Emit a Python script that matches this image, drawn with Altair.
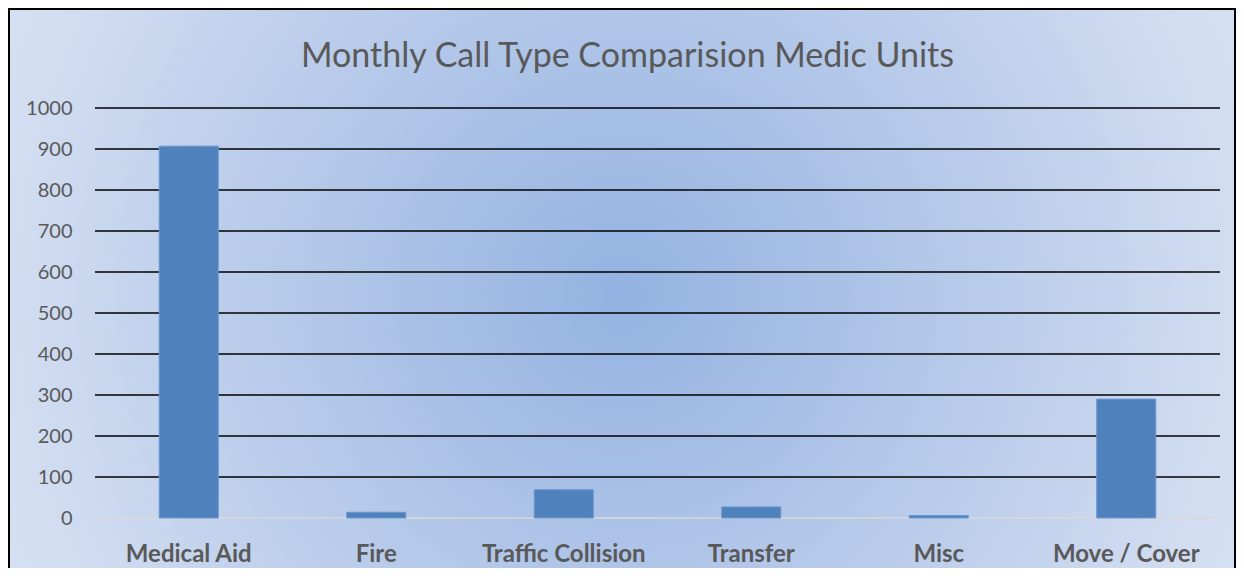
import altair as alt
import pandas as pd

categories = ["Medical Aid", "Fire", "Traffic Collision", "Transfer", "Misc", "Move / Cover"]
calls = [907, 14, 69, 27, 6, 290]
y_ticks = [0, 100, 200, 300, 400, 500, 600, 700, 800, 900, 1000]
title_text = "Monthly Call Type Comparision Medic Units"

W, H = 1125, 410
PAD = {"left": 87, "top": 100, "right": 16, "bottom": 50}

df = pd.DataFrame({"category": categories, "calls": calls})
grid_df = pd.DataFrame({"tick": y_ticks})
title_df = pd.DataFrame({"t": [title_text]})

yscale = alt.Scale(domain=[0, 1000], nice=False)
xscale = alt.Scale(domain=categories, paddingInner=0.685, paddingOuter=0.3425)

y_axis = alt.Axis(
    values=y_ticks,
    format="d",
    labelFont="Lato",
    labelFontSize=20,
    labelColor="#595959",
    labelPadding=23,
    ticks=False,
    tickSize=0,
    domain=False,
    grid=False,
    zindex=1,
)

bg = alt.Chart(pd.DataFrame({"a": [0]})).mark_rect(
    fill=alt.RadialGradient(
        gradient="radial",
        stops=[
            alt.GradientStop(color="#94B2E1", offset=0),
            alt.GradientStop(color="#D2DDF1", offset=0.7),
            alt.GradientStop(color="#E0E8F5", offset=1),
        ],
        x1=0.5, y1=0.5, r1=0, x2=0.5, y2=0.5, r2=0.72,
    ),
    stroke="black",
    strokeWidth=2,
).encode(
    x=alt.value(-PAD["left"] + 1),
    x2=alt.value(W + PAD["right"] - 1),
    y=alt.value(-PAD["top"] + 1),
    y2=alt.value(H + PAD["bottom"] + 10),
)

title = alt.Chart(title_df).mark_text(
    font="Lato",
    fontSize=34,
    color="#595959",
    align="center",
    baseline="alphabetic",
).encode(
    text="t:N",
    x=alt.value(W / 2 - 30),
    y=alt.value(-41),
)

grid = alt.Chart(grid_df).mark_rule(strokeWidth=1.6).encode(
    y=alt.Y("tick:Q", scale=yscale, axis=y_axis, title=None),
    x=alt.value(0),
    x2=alt.value(W),
    color=alt.condition("datum.tick == 0", alt.value("#D9D9D9"), alt.value("black")),
)

bars = alt.Chart(df).mark_bar(color="#4F81BD", stroke="#6C97CE", strokeWidth=1).encode(
    x=alt.X(
        "category:N",
        scale=xscale,
        sort=categories,
        title=None,
        axis=alt.Axis(
            labelAngle=0,
            labelFont="Lato",
            labelFontSize=24,
            labelFontWeight="bold",
            labelColor="#595959",
            labelPadding=24,
            ticks=False,
            tickSize=0,
            domain=False,
            grid=False,
            zindex=1,
        ),
    ),
    y=alt.Y("calls:Q", scale=yscale, title=None, axis=y_axis),
)

chart = alt.layer(bg, title, grid, bars).properties(
    width=W,
    height=H,
    padding=PAD,
    autosize=alt.AutoSizeParams(type="none"),
).configure_view(stroke=None)

chart.save("out.html", embed_options={"renderer": "svg", "actions": False})
